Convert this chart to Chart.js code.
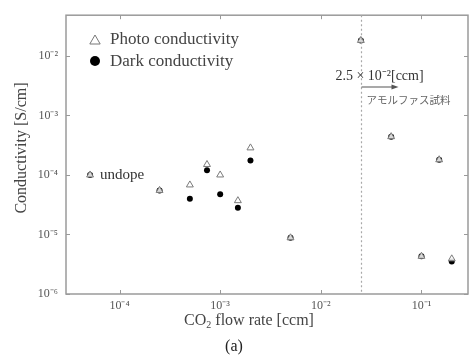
<!DOCTYPE html>
<html>
<head>
<meta charset="utf-8">
<script src="https://cdn.jsdelivr.net/npm/chart.js@4.4.1/dist/chart.umd.min.js"></script>
<style>
  html, body { margin: 0; padding: 0; background: #ffffff; }
  #wrap { width: 473px; height: 356px; }
</style>
</head>
<body>
<div id="wrap"><canvas id="c" width="473" height="356"></canvas></div>
<script>
// ---- data ----
const flowRate = [5.1e-5, 2.5e-4, 5.0e-4, 7.4e-4, 1.0e-3, 1.5e-3, 2.0e-3, 5.0e-3, 2.5e-2, 5.0e-2, 0.1, 0.15, 0.2];
const photoConductivity = [1.0e-4, 5.5e-5, 6.8e-5, 1.5e-4, 1.0e-4, 3.7e-5, 2.85e-4, 8.8e-6, 1.82e-2, 4.4e-4, 4.3e-6, 1.8e-4, 3.9e-6];
const darkConductivity  = [1.0e-4, 5.5e-5, 4.0e-5, 1.2e-4, 4.75e-5, 2.8e-5, 1.75e-4, 8.8e-6, 1.82e-2, 4.4e-4, 4.3e-6, 1.8e-4, 3.5e-6];
const seriesNames = ['Photo conductivity', 'Dark conductivity'];
const xTickValues = [1e-4, 1e-3, 1e-2, 1e-1];
const xTickLabels = ['10⁻⁴', '10⁻³', '10⁻²', '10⁻¹'];
const yTickValues = [1e-6, 1e-5, 1e-4, 1e-3, 1e-2];
const yTickLabels = ['10⁻⁶', '10⁻⁵', '10⁻⁴', '10⁻³', '10⁻²'];
const thresholdFlow = 2.5e-2;
const thresholdLabel = '2.5 × 10⁻²[ccm]';
const amorphousLabel = 'アモルファス試料';
const undopeLabel = 'undope';
const xTitle = ['CO', '2', ' flow rate [ccm]'];
const yTitle = 'Conductivity [S/cm]';
const panelLabel = '(a)';

const SERIF = '"Liberation Serif", "Times New Roman", serif';
const AXIS_COLOR = '#9a9a9a';
const TEXT_COLOR = '#444444';

const toPts = (xs, ys) => xs.map((x, i) => ({x: x, y: ys[i]}));

const decorations = {
  id: 'decorations',
  afterDatasetsDraw(chart) {
    const ctx = chart.ctx;
    const a = chart.chartArea;
    const xs = chart.scales.x, ys = chart.scales.y;
    ctx.save();
    // frame
    ctx.strokeStyle = AXIS_COLOR;
    ctx.lineWidth = 1.5;
    ctx.strokeRect(a.left, a.top, a.right - a.left, a.bottom - a.top);
    // inner ticks
    ctx.lineWidth = 1;
    ctx.beginPath();
    xTickValues.forEach(v => {
      const px = Math.round(xs.getPixelForValue(v)) + 0.5;
      ctx.moveTo(px, a.bottom); ctx.lineTo(px, a.bottom - 4);
      ctx.moveTo(px, a.top); ctx.lineTo(px, a.top + 4);
    });
    yTickValues.forEach(v => {
      const py = Math.round(ys.getPixelForValue(v)) + 0.5;
      ctx.moveTo(a.left, py); ctx.lineTo(a.left + 4, py);
      ctx.moveTo(a.right, py); ctx.lineTo(a.right - 4, py);
    });
    ctx.stroke();
    // dotted threshold line
    const tx = Math.round(xs.getPixelForValue(thresholdFlow)) + 0.5;
    ctx.strokeStyle = '#a8a8a8';
    ctx.lineWidth = 1.2;
    ctx.setLineDash([2, 2.5]);
    ctx.beginPath();
    ctx.moveTo(tx, a.top); ctx.lineTo(tx, a.bottom);
    ctx.stroke();
    ctx.setLineDash([]);
    // threshold annotation
    ctx.fillStyle = '#333';
    ctx.font = '14px ' + SERIF;
    ctx.textAlign = 'center';
    ctx.textBaseline = 'middle';
    ctx.fillText(thresholdLabel, tx + 18, 76);
    // arrow
    ctx.strokeStyle = '#555';
    ctx.lineWidth = 1.2;
    ctx.beginPath();
    ctx.moveTo(tx, 87); ctx.lineTo(tx + 33, 87);
    ctx.stroke();
    ctx.fillStyle = '#555';
    ctx.beginPath();
    ctx.moveTo(tx + 37, 87); ctx.lineTo(tx + 30, 84.5); ctx.lineTo(tx + 30, 89.5); ctx.closePath();
    ctx.fill();
    // amorphous label
    ctx.fillStyle = '#666';
    ctx.font = '10.5px "Noto Sans CJK JP", sans-serif';
    ctx.textAlign = 'left';
    ctx.fillText(amorphousLabel, tx + 5, 100);
    // undope label
    ctx.fillStyle = '#333';
    ctx.font = '15px ' + SERIF;
    ctx.fillText(undopeLabel, xs.getPixelForValue(flowRate[0]) + 10, ys.getPixelForValue(photoConductivity[0]));
    // legend
    ctx.strokeStyle = '#777'; ctx.lineWidth = 1;
    ctx.fillStyle = '#ffffff';
    Chart.helpers.drawPoint(ctx, {pointStyle: 'triangle', radius: 6, rotation: 0, borderWidth: 1}, 95, 41);
    ctx.fillStyle = '#000';
    ctx.beginPath();
    ctx.arc(95, 61, 5, 0, Math.PI * 2);
    ctx.fill();
    ctx.fillStyle = TEXT_COLOR;
    ctx.font = '17px ' + SERIF;
    ctx.fillText(seriesNames[0], 110, 40);
    ctx.fillText(seriesNames[1], 110, 62);
    // x title with subscript
    ctx.font = '16px ' + SERIF;
    const w0 = ctx.measureText(xTitle[0]).width;
    ctx.font = '10px ' + SERIF;
    const w1 = ctx.measureText(xTitle[1]).width;
    ctx.font = '16px ' + SERIF;
    const w2 = ctx.measureText(xTitle[2]).width;
    let sx = 249 - (w0 + w1 + w2) / 2;
    const ty = 321;
    ctx.textAlign = 'left';
    ctx.fillText(xTitle[0], sx, ty);
    ctx.font = '10px ' + SERIF;
    ctx.fillText(xTitle[1], sx + w0, ty + 4);
    ctx.font = '16px ' + SERIF;
    ctx.fillText(xTitle[2], sx + w0 + w1, ty);
    // y title
    ctx.save();
    ctx.translate(22, 148);
    ctx.rotate(-Math.PI / 2);
    ctx.textAlign = 'center';
    ctx.fillText(yTitle, 0, 0);
    ctx.restore();
    // panel label
    ctx.textAlign = 'center';
    ctx.fillStyle = '#222';
    ctx.fillText(panelLabel, 234, 347);
    ctx.restore();
  }
};

const tickFont = {family: SERIF, size: 12};

new Chart(document.getElementById('c'), {
  type: 'scatter',
  data: {
    datasets: [
      {
        label: seriesNames[0],
        data: toPts(flowRate, photoConductivity),
        pointStyle: 'triangle',
        pointRadius: 4,
        backgroundColor: 'rgba(255,255,255,0.85)',
        borderColor: '#7a7a7a',
        borderWidth: 1,
        pointHoverRadius: 4
      },
      {
        label: seriesNames[1],
        data: toPts(flowRate, darkConductivity),
        pointStyle: 'circle',
        pointRadius: 3,
        backgroundColor: '#000000',
        borderColor: '#000000',
        borderWidth: 0,
        pointHoverRadius: 3
      }
    ]
  },
  options: {
    responsive: false,
    animation: false,
    devicePixelRatio: 1,
    layout: {padding: {top: 11, right: 1, left: 0, bottom: 0}},
    plugins: {legend: {display: false}, tooltip: {enabled: false}},
    scales: {
      x: {
        type: 'logarithmic',
        min: 2.94e-5,
        max: 0.29,
        grid: {display: false, drawTicks: false},
        border: {display: false},
        afterBuildTicks: s => { s.ticks = xTickValues.map(v => ({value: v})); },
        afterFit: s => { s.height = 62; },
        ticks: {
          font: tickFont,
          color: '#555',
          padding: 5,
          maxRotation: 0,
          autoSkip: false,
          callback: v => xTickLabels[xTickValues.findIndex(t => Math.abs(Math.log10(t) - Math.log10(v)) < 1e-6)]
        }
      },
      y: {
        type: 'logarithmic',
        min: 1e-6,
        max: 0.0483,
        grid: {display: false, drawTicks: false},
        border: {display: false},
        afterBuildTicks: s => { s.ticks = yTickValues.map(v => ({value: v})); },
        afterFit: s => { s.width = 66; },
        ticks: {
          font: tickFont,
          color: '#555',
          padding: 8,
          autoSkip: false,
          callback: v => yTickLabels[yTickValues.findIndex(t => Math.abs(Math.log10(t) - Math.log10(v)) < 1e-6)]
        }
      }
    }
  },
  plugins: [decorations]
});
</script>
</body>
</html>
